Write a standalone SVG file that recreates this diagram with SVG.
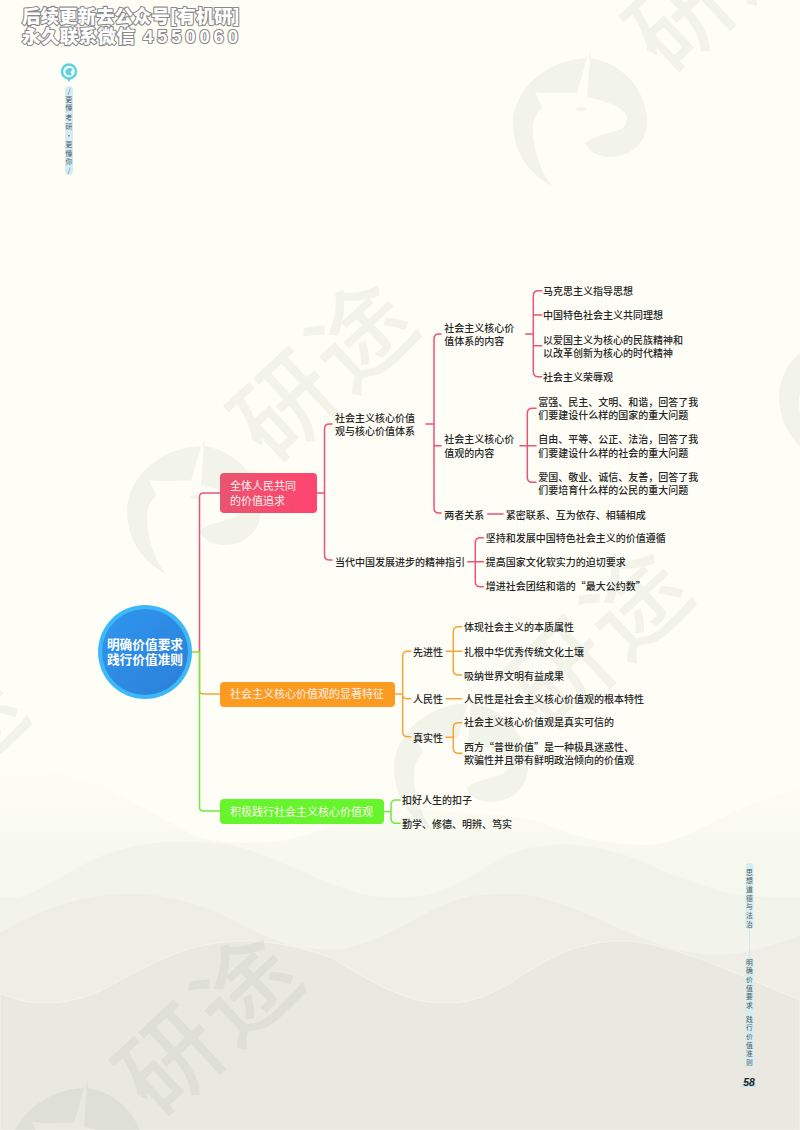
<svg xmlns="http://www.w3.org/2000/svg" width="800" height="1130" viewBox="0 0 800 1130">
<style>
text{font-family:"Noto Sans CJK SC","Liberation Sans",sans-serif}
.t{font-size:10px;fill:#262626;font-weight:500}
.b{font-size:11px;fill:#fff0ea}
.r{font-size:12.7px;font-weight:700;fill:#fff;text-anchor:middle}
.c{fill:none;stroke-width:1.5;stroke-linecap:round}
.p{stroke:#ee5278}.o{stroke:#f8a436}.g{stroke:#72e840}
.wm{font-size:100px;font-weight:500;fill:#50785a;fill-opacity:.07;text-anchor:middle;letter-spacing:4px}
.h{font-size:18.500px;font-weight:900;fill:#fff;stroke:#8a8a8a;stroke-width:2.200;paint-order:stroke;stroke-linejoin:round}
.v{font-size:6.800px;fill:#4f5a60;text-anchor:middle}
.pill{fill:#d3edf2}
</style>
<defs>
<linearGradient id="fade" x1="0" y1="760" x2="0" y2="860" gradientUnits="userSpaceOnUse"><stop offset="0" stop-color="#fefef6"/><stop offset="1" stop-color="#f7f8ed"/></linearGradient>
<linearGradient id="redg" x1="0" y1="0" x2="1" y2="0"><stop offset="0" stop-color="#ea5470"/><stop offset="1" stop-color="#ff4570"/></linearGradient>
<linearGradient id="blueg" x1="0" y1="0" x2="1" y2="1"><stop offset="0" stop-color="#3096f0"/><stop offset="1" stop-color="#2b7fd6"/></linearGradient>
<g id="logo" fill="#50785a" fill-opacity=".07">
<path d="M9-64A66 66 0 0 1 66 1C66 20 50 35 29 35C18 35 8 30 4 21C10 15 25 12 38 8C46 5 48-3 44-9C38-17 20-22 6-25Z"/>
<path d="M6-64C-38-62-68-30-68 1C-68 30-52 52-29 64C-40 50-48 30-48 5C-48-5-42-10-39-15L-46-30C-30-28-15-30-4-29Z"/>
<path d="M7-63L11-75L9-63Z"/>
<ellipse cx="0" cy="-13" rx="5" ry="1.800"/>
</g>
</defs>
<rect id="background" width="800" height="1130" fill="#fefef6"/>
<g id="hills">
<path d="M0 760C80 770 130 800 184 830C210 845 240 843 270 842C320 838 370 800 450 812C500 815 530 815 561 830C590 842 640 848 663 843C700 835 740 800 800 790V1130H0Z" fill="url(#fade)"/>
<path d="M0 898C10 898 20 898 31 893C50 885 70 870 92 860C120 848 145 842 173 842C195 842 220 842 240 847C265 855 285 865 306 873C340 888 365 898 398 898C420 898 440 893 459 883C485 868 510 850 536 847C550 845 565 843 577 845C600 848 620 852 638 860C680 878 710 890 740 895C760 898 780 898 800 898V1130H0Z" fill="#f2f3ea"/>
<path d="M0 933C30 915 60 903 92 897C115 893 135 893 153 895C180 899 200 905 219 913C250 930 280 945 306 948C320 950 335 950 347 948C370 943 390 933 408 923C435 908 460 895 485 895C505 893 525 893 541 898C580 908 620 930 653 942C675 950 695 955 714 955C745 955 775 945 800 935V1130H0Z" fill="#eeeee6"/>
<path d="M0 993C15 1000 30 1003 46 1003C65 1003 85 998 102 990C140 970 175 950 204 945C225 941 245 940 265 942C290 945 310 950 332 958C360 975 385 990 408 997C420 1002 435 1003 449 1003C470 1003 490 995 510 983C535 967 560 950 587 945C605 941 622 940 638 942C690 950 750 980 800 1000V1130H0Z" fill="#e9e9e2" stroke="#f6f6ef" stroke-width=".8"/>
</g>
<g id="watermarks">
<text class="wm" transform="translate(720 -20) rotate(-43) translate(0 36)">研途</text>
<text class="wm" transform="translate(325 370) rotate(-43) translate(0 36)">研途</text>
<text class="wm" transform="translate(600 638) rotate(-43) translate(0 36)">研途</text>
<text class="wm" transform="translate(210 1024) rotate(-43) translate(0 36)">研途</text>
<text class="wm" transform="translate(-65 757) rotate(-43) translate(0 36)">研途</text>
<use href="#logo" x="581" y="122"/>
<use href="#logo" x="195" y="510"/>
<use href="#logo" x="462" y="767"/>
<use href="#logo" x="847" y="395"/>
<use href="#logo" x="78" y="1152"/>
</g>
<g id="header">
<text class="h" x="22" y="23" textLength="218">后续更新去公众号[有机研]</text>
<text class="h" x="22" y="43" textLength="113">永久联系微信</text>
<text class="h" x="143" y="43" textLength="95" style="font-family:'Liberation Sans',sans-serif;font-weight:700">4550060</text>
</g>
<g id="side-top">
<rect class="pill" x="65" y="86" width="8" height="89" rx="4"/>
<circle cx="69" cy="71.500" r="7" fill="#fff" stroke="#5cd3e2" stroke-width="2.500"/>
<path d="M66.500 78L69 82L71.500 78Z" fill="#5cd3e2"/>
<path d="M65 72C66 68 70 67 73 69L70.500 72L72 75C69 76 66 75 65 72Z" fill="#5cd3e2"/>
<text class="v" x="69 69 69 69 69 69 69 69 69 69" y="93.500 101.500 109.500 119.500 128.500 137.500 146.500 155.500 163.500 172.500">/更懂考研·更懂你/</text>
</g>
<g id="side-bottom">
<path d="M749.500 928V957" stroke="#cfe9ee" fill="none"/>
<rect class="pill" x="745.500" y="863" width="8" height="66" rx="4"/>
<rect class="pill" x="745.500" y="957" width="8" height="111" rx="4"/>
<text class="v" x="749.500 749.500 749.500 749.500 749.500 749.500 749.500" y="874.500 883.200 891.900 900.600 909.300 918 926.700">思想道德与法治</text>
<text class="v" x="749.500 749.500 749.500 749.500 749.500 749.500" y="964.500 973.200 981.900 990.600 999.300 1008">明确价值要求</text>
<text class="v" x="749.500 749.500 749.500 749.500 749.500 749.500" y="1022 1030.400 1038.800 1047.900 1056.200 1064.500">践行价值准则</text>
<path d="M743 1082H755L757 1087H741Z" fill="#bfe3f2"/>
<text x="749" y="1085.500" text-anchor="middle" style="font-family:'Liberation Sans',sans-serif;font-size:10.500px;font-weight:700;font-style:italic;fill:#222">58</text>
</g>
<g id="connectors">
<path class="c g" d="M192 652H199.500"/>
<path class="c p" d="M199.500 652V497Q199.500 493 203.500 493H220"/>
<path class="c o" d="M199.500 652V690Q199.500 694 203.500 694H220"/>
<path class="c g" d="M199.500 652V807Q199.500 811 203.500 811H220"/>
<path class="c p" d="M317 493H324.500M332 424H329.500Q324.500 424 324.500 429V555Q324.500 560 329.500 560H332"/>
<path class="c p" d="M426 424H434M441 334H439Q434 334 434 339V508Q434 513 439 513H441M434 445.700H441"/>
<path class="c p" d="M525.700 334H533.300M541.700 290.700H538.300Q533.300 290.700 533.300 295.700V371.700Q533.300 376.700 538.300 376.700H541.700M533.300 315H541.700M533.300 345.700H541.700"/>
<path class="c p" d="M520 445.700H536M536 408.300H532.300Q527.300 408.300 527.300 413.300V477.300Q527.300 482.300 532.300 482.300H536"/>
<path class="c p" d="M487.700 514H503"/>
<path class="c p" d="M467.700 561.700H483.300M483.300 537.700H480.300Q475.300 537.700 475.300 542.700V581.700Q475.300 586.700 480.300 586.700H483.300"/>
<path class="c o" d="M395 694H402.700M410.700 651.300H407.700Q402.700 651.300 402.700 656.300V731.700Q402.700 736.700 407.700 736.700H410.700M402.700 694Q402.700 698.700 406.700 698.700H410.700"/>
<path class="c o" d="M446 651.300H461.700M461.700 626.700H458.300Q453.300 626.700 453.300 631.700V670Q453.300 675 458.300 675H461.700"/>
<path class="c o" d="M446 698.700H461.700"/>
<path class="c o" d="M446 737.300H453.300M461.700 722.700H458.300Q453.300 722.700 453.300 727.700V748.300Q453.300 753.300 458.300 753.300H461.700"/>
<path class="c g" d="M384 811.500H391M400 800H396Q391 800 391 805V818.300Q391 823.300 396 823.300H400"/>
</g>
<g id="root">
<circle cx="145" cy="652" r="47" fill="#3db9f9"/>
<circle cx="145" cy="652" r="43" fill="url(#blueg)"/>
<text class="r" x="145" y="648.500">明确价值要求</text>
<text class="r" x="145" y="664">践行价值准则</text>
</g>
<g id="n1"><rect x="220" y="473" width="97" height="40" rx="4" fill="url(#redg)"/><text class="b" x="230" y="490">全体人民共同</text><text class="b" x="230" y="504.500">的价值追求</text></g>
<g id="n2"><rect x="220" y="682" width="175" height="25" rx="4" fill="#fb9b22"/><text class="b" x="230" y="698">社会主义核心价值观的显著特征</text></g>
<g id="n3"><rect x="220" y="799" width="164" height="25" rx="4" fill="#66f52c"/><text class="b" x="230" y="815.500">积极践行社会主义核心价值观</text></g>
<g id="labels" transform="translate(0 .5)">
<text class="t" x="335" y="421.300">社会主义核心价值</text><text class="t" x="335" y="434.300">观与核心价值体系</text>
<text class="t" x="335" y="565.300">当代中国发展进步的精神指引</text>
<text class="t" x="444.300" y="331">社会主义核心价</text><text class="t" x="444.300" y="344.300">值体系的内容</text>
<text class="t" x="444.300" y="442.600">社会主义核心价</text><text class="t" x="444.300" y="456">值观的内容</text>
<text class="t" x="444.300" y="518">两者关系</text>
<text class="t" x="505.700" y="518">紧密联系、互为依存、相辅相成</text>
<text class="t" x="543" y="294.300">马克思主义指导思想</text>
<text class="t" x="543" y="318.600">中国特色社会主义共同理想</text>
<text class="t" x="543" y="343.600">以爱国主义为核心的民族精神和</text><text class="t" x="543" y="356">以改革创新为核心的时代精神</text>
<text class="t" x="543" y="380.300">社会主义荣辱观</text>
<text class="t" x="538.300" y="405.300">富强、民主、文明、和谐，回答了我</text><text class="t" x="538.300" y="418.600">们要建设什么样的国家的重大问题</text>
<text class="t" x="538.300" y="442.600">自由、平等、公正、法治，回答了我</text><text class="t" x="538.300" y="456">们要建设什么样的社会的重大问题</text>
<text class="t" x="538.300" y="480.300">爱国、敬业、诚信、友善，回答了我</text><text class="t" x="538.300" y="493.600">们要培育什么样的公民的重大问题</text>
<text class="t" x="485.700" y="541.300">坚持和发展中国特色社会主义的价值遵循</text>
<text class="t" x="485.700" y="565.600">提高国家文化软实力的迫切要求</text>
<text class="t" x="485.700" y="589.600">增进社会团结和谐的“最大公约数”</text>
<text class="t" x="413" y="655">先进性</text><text class="t" x="413" y="702.300">人民性</text><text class="t" x="413" y="741">真实性</text>
<text class="t" x="464" y="630.300">体现社会主义的本质属性</text>
<text class="t" x="464" y="655">扎根中华优秀传统文化土壤</text>
<text class="t" x="464" y="679">吸纳世界文明有益成果</text>
<text class="t" x="464" y="702.300">人民性是社会主义核心价值观的根本特性</text>
<text class="t" x="464" y="725.600">社会主义核心价值观是真实可信的</text>
<text class="t" x="464" y="750.300">西方“普世价值”是一种极具迷惑性、</text><text class="t" x="464" y="763">欺骗性并且带有鲜明政治倾向的价值观</text>
<text class="t" x="402" y="803.600">扣好人生的扣子</text>
<text class="t" x="402" y="827">勤学、修德、明辨、笃实</text>
</g>
</svg>
